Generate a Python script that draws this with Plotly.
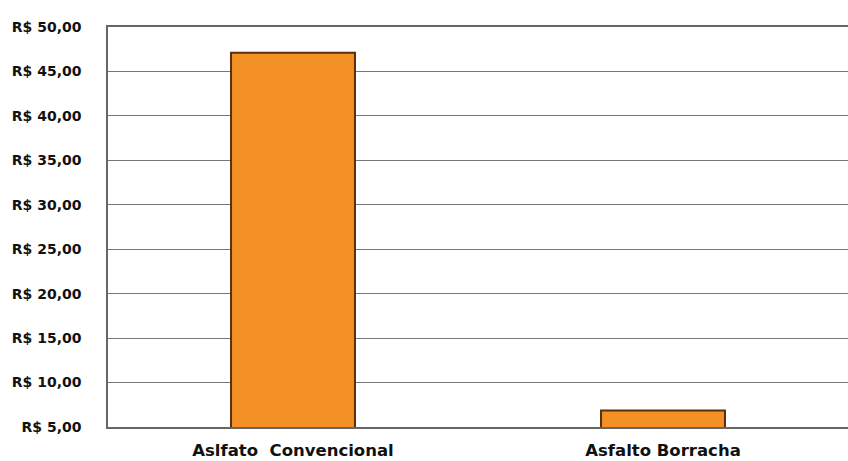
import plotly.graph_objects as go

categories = ["Aslfato\u00a0\u00a0Convencional", "Asfalto Borracha"]
values = [47.1, 6.85]
tick_vals = [5, 10, 15, 20, 25, 30, 35, 40, 45, 50]
tick_text = ["R$ 5,00", "R$ 10,00", "R$ 15,00", "R$ 20,00", "R$ 25,00",
             "R$ 30,00", "R$ 35,00", "R$ 40,00", "R$ 45,00", "R$ 50,00"]

fig = go.Figure()
fig.add_trace(go.Bar(
    x=categories, y=values, base=0,
    width=0.335,
    marker=dict(color="#F39026", line=dict(color="#5C2E0A", width=2)),
))

fig.update_layout(
    width=848, height=461,
    margin=dict(l=108, r=0, t=27, b=34),
    paper_bgcolor="white", plot_bgcolor="white",
    showlegend=False,
    font=dict(family="DejaVu Sans", color="#111"),
    xaxis=dict(
        range=[-0.5, 1.5],
        showline=True, linecolor="#666", linewidth=1.5, mirror=True,
        ticks="", tickfont=dict(size=16.5, family="DejaVu Sans", weight="bold", color="#111"),
        ticklabelstandoff=7,
    ),
    yaxis=dict(
        range=[5, 50],
        tickvals=tick_vals, ticktext=tick_text,
        showgrid=True, gridcolor="#777", gridwidth=1,
        showline=True, linecolor="#666", linewidth=1.5,
        ticks="", tickfont=dict(size=14, family="DejaVu Sans", weight="bold", color="#111"),
        ticklabelstandoff=22,
        zeroline=False,
    ),
)

fig.write_html("out.html")
